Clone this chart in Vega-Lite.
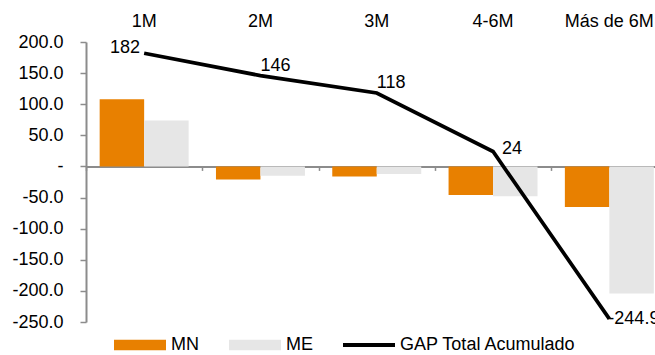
{
  "$schema": "https://vega.github.io/schema/vega-lite/v6.json",
  "width": 569,
  "height": 280,
  "autosize": {"type": "none"},
  "padding": {"left": 86, "top": 42, "right": 0, "bottom": 33},
  "background": "#ffffff",
  "config": {
    "view": {"stroke": null},
    "font": "Liberation Sans",
    "axis": {"labelFont": "Liberation Sans", "labelFontSize": 18, "labelColor": "#000000", "grid": false},
    "axisY": {"labelOverlap": false},
    "legend": {"labelFont": "Liberation Sans"},
    "text": {"font": "Liberation Sans"}
  },
  "datasets": {
    "barras": [
      {"plazo": "1M", "serie": "MN", "valor": 108},
      {"plazo": "1M", "serie": "ME", "valor": 74},
      {"plazo": "2M", "serie": "MN", "valor": -21},
      {"plazo": "2M", "serie": "ME", "valor": -15},
      {"plazo": "3M", "serie": "MN", "valor": -16},
      {"plazo": "3M", "serie": "ME", "valor": -12},
      {"plazo": "4-6M", "serie": "MN", "valor": -46},
      {"plazo": "4-6M", "serie": "ME", "valor": -48},
      {"plazo": "Más de 6M", "serie": "MN", "valor": -65},
      {"plazo": "Más de 6M", "serie": "ME", "valor": -204}
    ],
    "gap": [
      {"plazo": "1M", "valor": 182},
      {"plazo": "2M", "valor": 146},
      {"plazo": "3M", "valor": 118},
      {"plazo": "4-6M", "valor": 24},
      {"plazo": "Más de 6M", "valor": -244.9}
    ]
  },
  "encoding": {
    "y": {
      "field": "valor", "type": "quantitative",
      "scale": {"domain": [-250, 200], "nice": false, "zero": false},
      "title": null,
      "axis": {
        "values": [-250, -200, -150, -100, -50, 0, 50, 100, 150, 200],
        "labelExpr": "datum.value == 0 ? '-\u2002' : (datum.value < 0 ? '-' : '') + format(abs(datum.value), '.1f')",
        "labelOverlap": false,
        "labelPadding": 17,
        "tickSize": 6,
        "tickColor": "#8C8C8C",
        "tickWidth": 1.5,
        "domainColor": "#8C8C8C",
        "domainWidth": 2
      }
    }
  },
  "layer": [
    {
      "data": {"name": "barras"},
      "mark": {"type": "bar"},
      "encoding": {
        "x": {
          "field": "plazo", "type": "nominal",
          "sort": ["1M", "2M", "3M", "4-6M", "Más de 6M"],
          "scale": {"range": [0, 581.5], "paddingInner": 0.235, "paddingOuter": 0.1175},
          "title": null,
          "axis": {"orient": "top", "domain": false, "ticks": false, "tickSize": 0, "labelAngle": 0, "labelPadding": 12}
        },
        "xOffset": {"field": "serie", "type": "nominal", "sort": ["MN", "ME"], "scale": {"paddingInner": 0, "paddingOuter": 0}},
        "color": {
          "field": "serie", "type": "nominal",
          "scale": {"domain": ["MN", "ME", "GAP Total Acumulado"], "range": ["#E88000", "#E6E6E6", "#000000"]},
          "legend": {
            "orient": "none",
            "legendX": 28,
            "legendY": 277,
            "direction": "horizontal",
            "title": null,
            "symbolType": "M-1,-0.2H1V0.2H-1Z",
            "symbolSize": 2704,
            "symbolStrokeWidth": 0,
            "labelFontSize": 18,
            "labelColor": "#000000",
            "labelOffset": 5,
            "labelLimit": 400,
            "columnPadding": 30,
            "padding": 0,
            "encode": {
              "symbols": {
                "update": {
                  "shape": {"signal": "datum.value === 'GAP Total Acumulado' ? 'M-1,-0.075H1V0.075H-1Z' : 'M-1,-0.2H1V0.2H-1Z'"}
                }
              }
            }
          }
        }
      }
    },
    {
      "data": {"name": "gap"},
      "mark": {"type": "line", "color": "#000000", "strokeWidth": 3.7},
      "encoding": {
        "x": {
          "field": "plazo", "type": "nominal",
          "sort": ["1M", "2M", "3M", "4-6M", "Más de 6M"],
          "title": null,
          "axis": {
            "orient": "bottom", "offset": -155.6, "labels": false,
            "domainColor": "#8C8C8C", "domainWidth": 2,
            "tickColor": "#8C8C8C", "tickWidth": 1.5, "tickSize": 4,
            "bandPosition": 0,
            "tickOffset": -13.7
          }
        }
      }
    },
    {
      "data": {"name": "gap"},
      "transform": [{"filter": "datum.plazo == '1M'"}],
      "mark": {"type": "text", "fontSize": 18, "color": "#000000", "align": "right", "baseline": "middle", "dx": -4, "dy": -5},
      "encoding": {
        "x": {"field": "plazo", "type": "nominal", "sort": ["1M", "2M", "3M", "4-6M", "Más de 6M"], "axis": null},
        "text": {"field": "valor", "type": "nominal"}
      }
    },
    {
      "data": {"name": "gap"},
      "transform": [{"filter": "datum.plazo == '2M' || datum.plazo == '3M'"}],
      "mark": {"type": "text", "fontSize": 18, "color": "#000000", "align": "left", "baseline": "middle", "dx": 0, "dy": -10},
      "encoding": {
        "x": {"field": "plazo", "type": "nominal", "sort": ["1M", "2M", "3M", "4-6M", "Más de 6M"], "axis": null},
        "text": {"field": "valor", "type": "nominal"}
      }
    },
    {
      "data": {"name": "gap"},
      "transform": [{"filter": "datum.plazo == '4-6M'"}],
      "mark": {"type": "text", "fontSize": 18, "color": "#000000", "align": "left", "baseline": "middle", "dx": 9, "dy": -3},
      "encoding": {
        "x": {"field": "plazo", "type": "nominal", "sort": ["1M", "2M", "3M", "4-6M", "Más de 6M"], "axis": null},
        "text": {"field": "valor", "type": "nominal"}
      }
    },
    {
      "data": {"name": "gap"},
      "transform": [{"filter": "datum.plazo == 'Más de 6M'"}],
      "mark": {"type": "text", "fontSize": 18, "color": "#000000", "align": "left", "baseline": "middle", "dx": -1, "dy": 0},
      "encoding": {
        "x": {"field": "plazo", "type": "nominal", "sort": ["1M", "2M", "3M", "4-6M", "Más de 6M"], "axis": null},
        "text": {"field": "valor", "type": "nominal"}
      }
    }
  ],
  "resolve": {"axis": {"x": "independent"}}
}
